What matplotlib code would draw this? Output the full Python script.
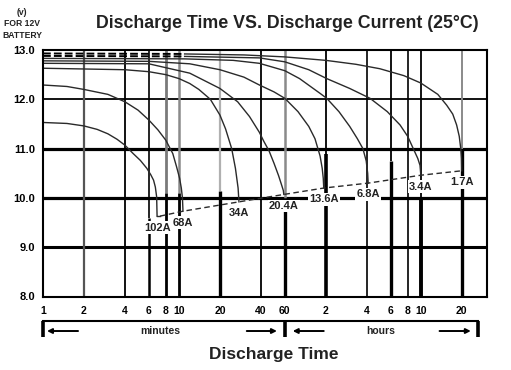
import matplotlib
matplotlib.use('Agg')
import matplotlib.pyplot as plt
from matplotlib.ticker import NullLocator
from matplotlib.transforms import blended_transform_factory

plt.rcParams['font.family'] = ['Liberation Sans', 'DejaVu Sans']
plt.rcParams['font.weight'] = 'bold'

# ---------------- data (time in minutes, voltage in V) ----------------
t_1p7 = [1, 11, 30, 60, 120, 200, 300, 450, 600, 800, 930, 1030, 1100, 1150, 1180, 1195, 1200]
v_1p7 = [12.93, 12.92, 12.90, 12.86, 12.79, 12.71, 12.62, 12.48, 12.33, 12.10, 11.88, 11.70, 11.48, 11.25, 11.0, 10.8, 10.55]

t_3p4 = [1, 11, 39, 60, 90, 122, 180, 254, 340, 422, 480, 528, 570, 592, 600]
v_3p4 = [12.88, 12.87, 12.84, 12.76, 12.60, 12.42, 12.22, 12.02, 11.75, 11.48, 11.25, 11.0, 10.8, 10.66, 10.46]

t_6p8 = [1, 11, 25, 39, 60, 77, 109, 122, 150, 180, 205, 225, 238, 244, 246]
v_6p8 = [12.83, 12.82, 12.79, 12.73, 12.58, 12.42, 12.12, 12.02, 11.75, 11.45, 11.2, 11.0, 10.75, 10.5, 10.3]

t_13p6 = [1, 6, 12, 20, 30, 39, 50, 60, 75, 90, 100, 109, 113, 115, 116]
v_13p6 = [12.78, 12.77, 12.72, 12.60, 12.45, 12.29, 12.15, 12.02, 11.75, 11.45, 11.2, 10.85, 10.6, 10.4, 10.2]

t_20p4 = [1, 6, 12, 20, 27, 33, 39, 42, 46, 50, 54, 57, 58.5, 59]
v_20p4 = [12.73, 12.72, 12.53, 12.22, 11.95, 11.65, 11.33, 11.15, 10.95, 10.7, 10.45, 10.25, 10.15, 10.07]

t_34 = [1, 4, 6, 8, 10, 12, 14, 17, 20, 22, 24.4, 26, 27.2, 27.6]
v_34 = [12.63, 12.60, 12.56, 12.50, 12.42, 12.32, 12.2, 12.0, 11.68, 11.4, 11.0, 10.6, 10.2, 9.92]

t_68 = [1, 1.5, 2, 3, 4, 5, 6, 7, 8, 9, 9.6, 10.1, 10.4, 10.6, 10.7]
v_68 = [12.29, 12.26, 12.2, 12.1, 11.95, 11.78, 11.58, 11.38, 11.17, 10.9, 10.63, 10.4, 10.2, 10.0, 9.73]

t_102 = [1, 1.5, 2, 2.5, 3, 3.5, 4, 4.6, 5.2, 5.8, 6.2, 6.5, 6.7, 6.85, 6.9]
v_102 = [11.53, 11.51, 11.46, 11.39, 11.3, 11.19, 11.07, 10.9, 10.76, 10.6, 10.47, 10.36, 10.22, 10.02, 9.63]

current_labels = ['1.7A', '3.4A', '6.8A', '13.6A', '20.4A', '34A', '68A', '102A']

x_ticks = [1, 2, 4, 6, 8, 10, 20, 40, 60, 120, 240, 360, 480, 600, 1200]
x_tick_labels = ['1', '2', '4', '6', '8', '10', '20', '40', '60', '2', '4', '6', '8', '10', '20']
y_ticks = [8, 9, 10, 11, 12, 13]
y_tick_labels = ['8.0', '9.0', '10.0', '11.0', '12.0', '13.0']

series_t = [t_1p7, t_3p4, t_6p8, t_13p6, t_20p4, t_34, t_68, t_102]
series_v = [v_1p7, v_3p4, v_6p8, v_13p6, v_20p4, v_34, v_68, v_102]

# ---------------- figure ----------------
fig = plt.figure(figsize=(5.11, 3.70), dpi=100)
ax = fig.add_axes([43 / 511, 1 - 296.5 / 370, 444 / 511, 246.5 / 370])
ax.set_xscale('log')
ax.set_xlim(1, 1840)
ax.set_ylim(8, 13)

# horizontal grid
for yv, lw in zip([9, 10, 11, 12], [2.2, 2.3, 2.3, 1.3]):
    ax.axhline(yv, color='black', lw=lw, zorder=1)

# vertical grid: (upper colour, upper lw, split voltage, lower colour, lower lw)
vstyles = {
    2: ('#555555', 1.6, 8, 'black', 1.6),
    4: ('black', 1.3, 8, 'black', 1.3),
    6: ('black', 1.2, 9.6, 'black', 1.8),
    8: ('#7a7a7a', 2.0, 10.1, 'black', 2.0),
    10: ('#8a8a8a', 1.8, 10.1, 'black', 2.0),
    20: ('#b0b0b0', 1.6, 10.15, 'black', 2.4),
    40: ('black', 1.3, 8, 'black', 1.3),
    60: ('#8a8a8a', 1.8, 10.0, 'black', 2.4),
    120: ('black', 1.3, 10.9, 'black', 2.6),
    240: ('black', 1.2, 8, 'black', 1.2),
    360: ('black', 1.3, 10.75, 'black', 2.4),
    480: ('black', 1.2, 8, 'black', 1.2),
    600: ('black', 1.3, 10.0, 'black', 2.8),
    1200: ('#8a8a8a', 1.4, 11.0, 'black', 2.4),
}
for tk in x_ticks[1:]:
    uc, ulw, split, lc, llw = vstyles[tk]
    ax.plot([tk, tk], [split, 13], color=uc, lw=ulw, zorder=1, solid_capstyle='butt')
    if split > 8:
        ax.plot([tk, tk], [8, split], color=lc, lw=llw, zorder=1, solid_capstyle='butt')

# discharge curves
for i, (ts, vs) in enumerate(zip(series_t, series_v)):
    if i < 2:
        k = ts.index(11)
        ax.plot(ts[:k + 1], vs[:k + 1], color='black', lw=1.4, ls=(0, (4, 1.6)), zorder=3)
        ax.plot(ts[k:], vs[k:], color='#2a2a2a', lw=1.0, zorder=3)
    else:
        ax.plot(ts, vs, color='#2a2a2a', lw=1.0, zorder=3)

# end-voltage dashed line through curve endpoints
end_t = [ts[-1] for ts in series_t][::-1]
end_v = [vs[-1] for vs in series_v][::-1]
ax.plot([end_t[0] * 1.05] + end_t[1:], end_v, color='#2a2a2a', lw=1.0, ls=(0, (4, 2.5)), zorder=3)
ax.plot([end_t[0], end_t[0] * 1.05], [end_v[0], end_v[0]], color='#2a2a2a', lw=1.0, zorder=3)

# current labels
for lab, ts, vs in zip(current_labels, series_t, series_v):
    ax.annotate(lab, xy=(ts[-1], vs[-1]), xytext=(0, -8.2), textcoords='offset points',
                ha='center', va='center', fontsize=8, fontweight='bold', color='#222222',
                bbox=dict(boxstyle='square,pad=0.12', fc='white', ec='none'), zorder=6)

# ticks
ax.xaxis.set_minor_locator(NullLocator())
ax.set_xticks(x_ticks)
ax.set_xticklabels(x_tick_labels, fontsize=7.5, fontweight='bold')
ax.set_yticks(y_ticks)
ax.set_yticklabels(y_tick_labels, fontsize=8, fontweight='bold')
ax.tick_params(axis='x', length=0, pad=6.5)
ax.tick_params(axis='y', length=0, pad=5.8)
for sp in ax.spines.values():
    sp.set_linewidth(1.5)
    sp.set_zorder(4)

# bracket below the axis
trans = blended_transform_factory(ax.transData, ax.transAxes)
yb, ybb, ya = -0.0994, -0.164, -0.140
ax.plot([1, 1580], [yb, yb], transform=trans, color='black', lw=1.5, clip_on=False)
for xt in [1, 60, 1580]:
    ax.plot([xt, xt], [yb, ybb], transform=trans, color='black', lw=2.6, clip_on=False,
            solid_capstyle='butt')
arrow_kw = dict(arrowstyle='-|>', color='black', lw=1.4, mutation_scale=7, shrinkA=0, shrinkB=0)
for a, b in [(1.81, 1.07), (31.5, 52.5), (116, 68.6), (824, 1399)]:
    ax.annotate('', xy=(b, ya), xytext=(a, ya), xycoords=trans, textcoords=trans,
                arrowprops=arrow_kw, annotation_clip=False)
ax.text(7.24, ya, 'minutes', transform=trans, ha='center', va='center', fontsize=7.5,
        fontweight='bold', color='#222222')
ax.text(305, ya, 'hours', transform=trans, ha='center', va='center', fontsize=7.5,
        fontweight='bold', color='#222222')

# titles
fig.text(287 / 511, 1 - 24 / 370, 'Discharge Time VS. Discharge Current (25°C)',
         ha='center', va='center', fontsize=12.8, fontweight='bold', color='#222222')
fig.text(274 / 511, 1 - 354 / 370, 'Discharge Time', ha='center', va='center',
         fontsize=12.5, fontweight='bold', color='#222222')
for txt, yy in [('(v)', 12.5), ('FOR 12V', 24), ('BATTERY', 35)]:
    fig.text(22 / 511, 1 - yy / 370, txt, ha='center', va='center', fontsize=6.2,
             fontweight='bold', color='#222222')

fig.savefig('out.png', dpi=100)
